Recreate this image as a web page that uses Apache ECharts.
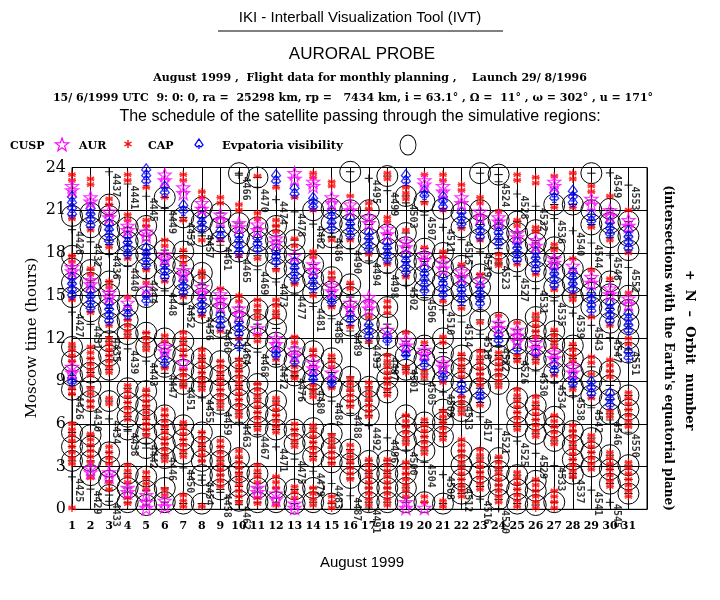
<!DOCTYPE html>
<html><head><meta charset="utf-8">
<script src="https://cdn.jsdelivr.net/npm/echarts@6/dist/echarts.min.js"></script>
<style>html,body{margin:0;padding:0;background:#fff}#c{width:720px;height:600px}</style>
</head><body><div id="c"></div>
<script>
// ---- categories / ticks ----
const dayTicks = [1,2,3,4,5,6,7,8,9,10,11,12,13,14,15,16,17,18,19,20,21,22,23,24,25,26,27,28,29,30,31];
const hourTicks = [0,3,6,9,12,15,18,21,24];

// ---- AUR (red asterisks): hours per day ----
const aurHours = [
 [0.1,3.2,3.6,4.0,4.4,4.8,5.2,5.6,6.0,8.1,8.5,10.4,10.8,11.2,11.6,14.7,17.4,17.8,20.4,23.1,23.5],
 [2.2,3.3,3.7,4.1,4.5,4.9,5.3,7.2,7.6,8.1,8.5,9.4,9.8,10.2,10.6,11.0,11.4,13.8,16.5,16.9,19.6,22.8,23.2],
 [1.4,1.9,3.2,3.6,4.0,4.4,7.4,7.8,9.6,10.0,10.4,10.8,11.2,11.6,12.0,12.9,15.6,16.0,18.4,21.4,21.8],
 [0.4,0.8,1.9,2.3,2.7,3.1,6.3,6.7,7.1,7.5,7.9,8.3,8.7,12.1,12.5,12.9,13.3,14.9,17.6,20.3,20.7,23.1,23.5],
 [1.4,1.8,2.2,2.6,5.2,5.6,6.0,6.4,6.8,7.2,7.6,8.0,8.4,11.2,11.6,12.0,12.4,15.9,16.8,19.9,20.3,22.6],
 [1.0,1.4,3.4,3.8,4.2,4.6,5.0,5.4,5.8,6.2,6.6,7.0,9.9,11.8,12.2,16.0,18.5,18.9,21.9],
 [0.2,0.6,1.0,3.7,4.1,4.5,4.9,5.3,5.7,6.1,8.6,9.0,9.4,9.8,10.8,11.2,11.6,12.0,12.4,14.9,17.3,17.7,18.2,20.3,23.1,23.5],
 [0.2,3.4,3.8,4.2,4.6,5.0,5.4,8.4,8.8,9.2,9.6,10.0,10.4,10.8,11.2,13.6,16.3,16.7,18.9,21.9,22.3],
 [1.6,2.0,2.4,2.8,3.2,3.6,4.0,4.4,4.8,7.2,7.6,8.0,8.4,8.8,9.2,9.6,10.0,10.4,12.5,15.5,18.9,21.5,21.9],
 [0.5,0.9,1.3,1.7,2.1,2.5,2.9,3.3,3.7,4.1,6.5,6.9,7.3,7.7,8.1,8.5,8.9,9.3,9.7,10.1,10.5,12.0,14.6,15.0,17.8,21.0,21.4],
 [0.4,0.8,1.9,2.3,2.7,3.1,5.6,6.0,6.4,6.8,7.2,7.6,8.0,8.4,8.8,11.8,12.2,13.5,13.9,14.3,14.7,17.6,20.4,20.8,23.4],
 [0.3,1.5,1.9,2.3,5.4,5.8,6.2,6.6,7.0,7.4,7.8,10.5,13.5,13.9,14.3,14.7,16.8,19.5,19.9,20.3,22.6],
 [0.8,1.2,1.6,4.4,4.8,5.2,5.6,6.0,9.2,9.6,10.0,11.7,12.1,15.8,18.5,19.0,21.9],
 [0.3,0.7,1.1,1.5,3.5,3.9,4.3,4.7,5.1,5.5,5.9,7.9,8.3,8.7,10.8,11.2,15.0,17.7,18.1,21.0,23.3,23.6],
 [0.1,0.5,0.9,3.2,3.6,4.0,4.4,4.8,5.2,8.5,10.0,10.4,10.8,14.2,16.2,16.6,18.9,22.7,23.0],
 [2.1,2.5,2.9,3.3,3.7,4.1,4.5,7.2,7.6,8.0,8.4,8.8,9.2,12.8,15.5,15.9,18.9,22.0],
 [0.3,0.7,1.1,1.5,1.9,2.3,2.7,3.1,3.5,6.5,6.9,7.3,7.7,8.1,8.5,8.9,11.8,13.5,17.9,21.1,21.5],
 [0.3,0.7,1.1,1.5,1.9,2.3,2.7,3.1,3.5,8.0,8.4,8.8,9.2,9.6,10.0,10.4,10.8,13.8,14.2,14.6,17.2,20.2,20.5,23.2,23.6],
 [0.9,1.3,1.7,2.1,2.5,2.9,3.3,4.6,5.0,5.4,5.8,6.2,6.6,9.6,10.0,12.4,16.3,19.6,21.8,22.2,22.6],
 [0.5,0.9,3.9,4.3,4.7,5.1,5.5,5.9,6.3,9.3,9.7,11.7,18.4,21.5,23.5],
 [0.2,0.6,4.9,5.3,5.7,6.1,6.5,6.9,8.9,11.7,12.1,14.6,17.7,18.1,21.0,23.1,23.5],
 [0.9,1.3,1.7,2.1,2.5,2.9,3.3,3.7,4.1,4.5,4.9,6.7,7.1,7.5,7.9,9.3,9.7,10.1,10.5,10.9,14.1,17.2,19.7,22.4,22.8],
 [1.4,1.8,2.2,2.6,3.0,3.4,3.8,4.2,7.3,8.7,9.1,9.5,9.9,10.3,10.7,11.1,13.1,16.5,18.9,21.5,21.9],
 [0.5,0.9,1.3,1.7,2.1,2.5,2.9,3.3,3.7,8.6,9.0,9.4,9.8,10.2,10.6,11.0,13.6,17.1,17.5,17.9,20.9],
 [0.2,0.6,1.0,1.4,1.8,2.2,2.6,5.6,6.0,6.4,6.8,7.2,7.6,8.0,8.4,10.4,10.8,13.1,17.2,19.9,20.3,23.1,23.5],
 [0.1,0.5,0.9,1.3,1.7,2.1,5.1,5.5,5.9,6.3,6.7,7.1,7.5,7.9,10.3,10.7,12.1,12.5,12.9,13.3,13.7,16.5,19.5,19.8,22.9,23.3],
 [0.1,0.5,0.9,1.3,4.6,5.0,5.4,5.8,6.2,6.6,9.4,11.4,11.8,12.2,12.6,15.4,18.2,18.6,21.2,23.4],
 [2.3,2.7,3.1,3.5,3.9,4.3,4.7,5.1,5.5,5.9,8.4,10.4,10.8,11.2,11.6,14.7,15.1,17.6,21.2,23.2,23.6],
 [2.8,3.2,3.6,4.0,4.4,4.8,5.2,7.8,9.5,10.3,10.7,13.5,16.8,19.8,22.3,22.7],
 [1.6,2.0,2.4,2.8,3.2,3.6,4.0,6.5,6.9,9.3,9.7,10.1,10.5,12.9,16.2,18.9,22.0],
 [0.9,1.3,1.7,2.1,2.5,2.9,3.3,5.8,6.2,6.6,7.0,7.4,7.8,8.2,11.6,12.0,15.2,18.0,21.0]
];

// ---- CUSP (magenta stars) ----
const cuspHours = [
 [9.6,10.0,16.7,17.0,22.4,22.7],
 [2.6,2.9,15.8,16.1,21.6,21.9],
 [2.3,2.6,14.9,15.2,20.5,20.9],
 [1.2,1.5,14.5,19.6,19.9],
 [0.1,0.5,1.0,15.5,19.2,19.5],
 [0.2,0.6,11.1,11.4,17.6,17.9,23.1,23.5],
 [10.3,16.5,16.8,22.2,22.6],
 [15.2,15.6,21.1,21.5],
 [14.3,14.7,15.1,20.3,20.7],
 [13.7,14.1,19.8,20.1],
 [1.2,1.5,12.7,19.6,20.0],
 [0.7,1.1,11.6,12.0,18.7,19.0],
 [0.1,0.4,10.8,11.2,17.8,23.2,23.6],
 [9.9,10.3,16.8,17.2,22.7,23.0],
 [9.6,15.3,15.7,21.5,21.9],
 [14.1,14.5,21.0,21.4],
 [14.1,14.5,14.9,20.1,20.5],
 [12.6,19.3,19.7],
 [0.1,0.5,11.5,11.9,18.4,18.8],
 [0.1,10.9,11.2,17.5,17.9,22.8,23.1],
 [10.0,10.3,16.9,17.3,22.3,22.7],
 [16.3,16.7,21.5,21.9],
 [16.1,20.5,20.9],
 [12.7,13.1,20.2,20.5],
 [11.8,12.2,12.6,19.1,19.4],
 [11.3,11.7,18.5,18.9],
 [10.6,11.0,17.3,17.6,22.7,23.0],
 [9.6,10.0,17.1],
 [15.9,16.3,21.4,21.8],
 [15.1,15.5,20.6,21.0],
 [14.4,14.8,19.9,20.3]
];

// ---- CAP (blue symbols) ----
const capHours = [
 [9.0,9.3,15.1,15.5,15.9,16.3,20.8,21.2,21.6,22.0],
 [14.2,14.6,15.0,15.4,20.0,20.4,20.8,21.2],
 [13.3,13.7,14.1,14.5,18.9,19.3,19.7,20.1],
 [13.7,14.1,18.0,18.4,18.8,19.2],
 [14.7,15.1,17.2,17.6,18.0,18.4,23.1,23.5,23.9],
 [10.3,10.7,16.4,16.8,17.2,22.3,22.7],
 [15.3,15.7,16.1,21.0,21.4],
 [14.0,14.4,14.8,19.8,20.2,20.6],
 [12.9,13.3,13.7,19.2,19.6],
 [11.5,12.4,12.8,13.2,18.1,18.5,18.9,19.3],
 [18.3,18.7,19.1],
 [10.9,11.2,17.4,17.8,18.2,23.1,23.5],
 [10.4,16.2,16.6,17.0,17.4,22.2,22.6],
 [9.2,9.5,15.6,16.0,16.4,21.3,21.6,21.9],
 [8.9,9.2,14.6,14.9,19.8,20.2,20.6,21.0],
 [13.3,13.7,19.3,19.7,20.1,20.5],
 [12.2,12.6,13.0,18.3,18.7,19.1,19.5],
 [11.9,12.2,17.6,18.0,18.4,18.8],
 [10.9,11.2,16.7,17.1,17.5,17.9,23.1,23.5],
 [10.2,10.6,15.4,15.8,16.2,16.6,17.0,22.1,22.4],
 [9.3,9.7,15.1,15.5,15.9,16.3,21.3,21.7,22.0],
 [8.4,8.8,14.7,15.1,15.5,15.9,20.1,20.5,20.9],
 [7.9,8.2,14.5,14.9,15.3,15.7,19.2,19.6,20.0],
 [11.9,12.3,18.7,19.1,19.5,19.9],
 [11.3,17.6,18.0,18.4,18.8],
 [11.0,16.9,17.3,17.7,18.1],
 [9.8,10.2,15.8,16.2,16.6,17.0,21.9,22.3],
 [8.9,9.3,15.5,15.9,16.3,16.7,21.6,22.0,22.4],
 [8.2,8.6,9.0,14.0,14.4,14.8,15.2,20.3,20.7],
 [7.4,7.8,8.2,13.3,13.7,14.1,14.5,19.4,19.8,20.2],
 [10.7,11.1,12.6,13.0,13.4,13.8,18.4,18.8,19.2,19.6]
];

// ---- Evpatoria visibility (circles) ----
const evpHours = [
 [3.4,4.4,5.4,8.4,9.4,10.4,11.4,14.9,15.9,16.9,17.8,20.6],
 [2.4,3.4,4.4,5.2,7.6,8.6,9.6,10.6,13.9,14.9,15.9,16.8,19.8,20.8],
 [1.0,2.0,3.0,4.0,7.6,9.8,10.8,11.8,13.1,14.1,15.1,16.0,18.6,19.6,20.6,21.4],
 [0.5,1.5,2.5,5.6,6.5,7.5,8.5,12.3,13.3,14.3,17.8,18.8,19.8],
 [0.3,1.3,2.3,4.3,5.3,6.3,7.3,8.3,11.4,12.4,14.9,16.9,17.9,18.9,19.9],
 [0.5,1.5,3.6,4.6,5.6,6.6,10.0,11.0,12.0,16.2,17.2,18.2,21.9],
 [0.4,3.9,4.9,5.9,8.8,9.8,10.8,11.8,15.1,16.1,17.1,18.1,20.5],
 [0.4,2.4,3.4,4.4,5.4,8.6,9.6,10.6,13.8,14.8,15.8,16.6,19.2,20.2,21.2],
 [1.4,2.4,3.4,4.4,7.4,8.4,9.4,10.4,12.8,13.8,14.8,18.8,19.8,20.8],
 [0.6,1.6,2.6,3.6,6.7,7.7,8.7,9.7,10.6,12.2,13.2,14.2,18.1,19.1,20.1,23.6],
 [0.5,1.5,2.5,5.8,6.8,7.8,8.8,12.0,13.0,14.0,17.8,18.8,19.8,23.3],
 [0.5,1.5,5.6,6.6,7.6,10.7,11.7,12.7,13.7,16.9,17.9,18.9,19.9],
 [0.4,1.4,4.6,5.6,9.4,10.4,11.4,15.9,16.9,17.9,18.9],
 [0.5,1.5,3.7,4.7,5.7,8.1,9.1,10.1,11.1,15.2,16.2,17.2,21.0],
 [0.4,3.3,4.3,5.3,8.6,9.6,10.6,14.3,15.3,16.3,19.1,20.1,21.1],
 [2.2,3.2,4.2,7.3,8.3,9.3,12.9,13.9,14.9,15.8,19.0,20.0,21.0,23.7],
 [0.5,1.5,2.5,3.4,6.6,7.6,8.6,12.0,13.0,14.0,18.0,19.0,20.0,21.0],
 [0.5,1.5,2.5,3.4,8.2,9.2,10.2,12.0,13.0,14.2,17.3,18.3,19.3,23.4],
 [0.5,1.5,2.5,4.8,5.8,6.6,9.8,10.8,11.8,16.4,17.4,18.4,19.4,22.0],
 [0.5,4.1,5.1,6.1,9.5,10.5,11.5,15.4,16.4,17.4,18.3,21.6],
 [0.4,5.1,6.1,7.0,9.0,10.0,11.0,12.0,15.0,16.0,17.0,18.0,21.1],
 [1.1,2.1,3.1,4.1,6.9,7.9,8.9,9.9,10.8,14.3,15.3,16.3,17.1,19.8,20.8],
 [1.6,2.6,3.6,7.5,8.5,9.5,10.5,13.3,14.6,15.6,16.5,19.0,20.0,21.0,23.6],
 [0.7,1.7,2.7,3.6,8.8,9.8,10.8,12.1,13.1,17.3,18.3,19.3,20.3,23.5],
 [0.4,1.4,2.4,5.8,6.8,7.8,10.6,11.6,12.6,17.4,18.4,19.4,20.2],
 [0.3,1.3,2.0,5.3,6.3,7.3,10.5,11.5,12.5,13.5,16.7,17.7,18.7,19.6],
 [0.5,4.8,5.8,6.5,9.6,10.6,11.6,12.5,15.6,16.6,17.6,18.4,21.4],
 [2.5,3.5,4.5,5.5,8.6,9.6,10.6,11.5,14.9,15.9,16.9,21.4],
 [3.0,4.0,5.0,8.0,9.0,10.0,14.2,15.2,16.2,20.0,21.0,23.6],
 [1.8,2.8,3.8,6.7,7.7,8.7,9.7,13.1,14.1,15.1,16.0,19.1,20.1,21.1],
 [1.1,2.1,3.1,6.0,7.0,8.0,11.0,12.0,13.0,14.0,15.0,18.2,19.2,20.2]
];

// ---- Orbit equatorial crossings: [orbit number, day, hour] ----
const orbits = [
 [4425,1,2.28],[4426,1,8.07],[4427,1,13.85],[4428,1,19.64],
 [4429,2,1.42],[4430,2,7.21],[4431,2,12.99],[4432,2,18.78],
 [4433,3,0.56],[4434,3,6.35],[4435,3,12.13],[4436,3,17.92],[4437,3,23.70],
 [4438,4,5.49],[4439,4,11.27],[4440,4,17.06],[4441,4,22.84],
 [4442,5,4.63],[4443,5,10.41],[4444,5,16.20],[4445,5,21.98],
 [4446,6,3.77],[4447,6,9.55],[4448,6,15.34],[4449,6,21.12],
 [4450,7,2.91],[4451,7,8.69],[4452,7,14.48],[4453,7,20.26],
 [4454,8,2.05],[4455,8,7.83],[4456,8,13.62],[4457,8,19.40],
 [4458,9,1.19],[4459,9,6.97],[4460,9,12.76],[4461,9,18.54],
 [4462,10,0.33],[4463,10,6.11],[4464,10,11.90],[4465,10,17.68],[4466,10,23.47],
 [4467,11,5.25],[4468,11,11.04],[4469,11,16.82],[4470,11,22.61],
 [4471,12,4.39],[4472,12,10.18],[4473,12,15.96],[4474,12,21.75],
 [4475,13,3.53],[4476,13,9.32],[4477,13,15.10],[4478,13,20.89],
 [4479,14,2.67],[4480,14,8.46],[4481,14,14.24],[4482,14,20.03],
 [4483,15,1.81],[4484,15,7.60],[4485,15,13.38],[4486,15,19.17],
 [4487,16,0.95],[4488,16,6.74],[4489,16,12.52],[4490,16,18.31],
 [4491,17,0.09],[4492,17,5.88],[4493,17,11.66],[4494,17,17.45],[4495,17,23.23],
 [4496,18,5.02],[4497,18,10.80],[4498,18,16.59],[4499,18,22.37],
 [4500,19,4.16],[4501,19,9.94],[4502,19,15.73],[4503,19,21.51],
 [4504,20,3.30],[4505,20,9.08],[4506,20,14.87],[4507,20,20.65],
 [4508,21,2.44],[4509,21,8.22],[4510,21,14.01],[4511,21,19.79],
 [4512,22,1.58],[4513,22,7.36],[4514,22,13.15],[4515,22,18.93],
 [4516,23,0.72],[4517,23,6.50],[4518,23,12.29],[4519,23,18.07],
 [4520,24,0.05],[4521,24,5.64],[4522,24,11.43],[4523,24,17.21],[4524,24,23.00],
 [4525,25,4.78],[4526,25,10.57],[4527,25,16.35],[4528,25,22.14],
 [4529,26,3.92],[4530,26,9.71],[4531,26,15.49],[4532,26,21.28],
 [4533,27,3.06],[4534,27,8.85],[4535,27,14.63],[4536,27,20.42],
 [4537,28,2.20],[4538,28,7.99],[4539,28,13.77],[4540,28,19.56],
 [4541,29,1.34],[4542,29,7.13],[4543,29,12.91],[4544,29,18.70],
 [4545,30,0.48],[4546,30,6.27],[4547,30,12.05],[4548,30,17.84],[4549,30,23.62],
 [4550,31,5.41],[4551,31,11.19],[4552,31,16.98],[4553,31,22.76]
];

// ---- symbols ----
const STAR = 'M0,-7L1.65,-2.27L6.66,-2.16L2.66,0.87L4.11,5.66L0,2.8L-4.11,5.66L-2.66,0.87L-6.66,-2.16L-1.65,-2.27Z';
const ASTER = 'M0,-4L0,4M-3.46,-2L3.46,2M-3.46,2L3.46,-2M-4,0L4,0';
const SPADE = 'M0,-5L4,1L2,3L0,1.5L-2,3L-4,1ZM0,1.5L0,5M-2,5L2,5';
const CIRC = 'M-10,0A10,10 0 1,1 10,0A10,10 0 1,1 -10,0ZM-4,0L4,0';
const PLUS = 'M-4,0L4,0M0,-4L0,4';

function pts(arr){const out=[];arr.forEach((hs,i)=>hs.forEach(h=>out.push([dayTicks[i],h])));return out;}

const chart = echarts.init(document.getElementById('c'), null, {renderer:'canvas'});
const serif = "'DejaVu Serif', 'Liberation Serif', serif";
const sans = "'Liberation Sans', Arial, sans-serif";

const gText = (x,y,text,font,extra)=>Object.assign({type:'text',x:x,y:y,style:{text:text,font:font,fill:'#000',textAlign:'center',textVerticalAlign:'middle'}},extra||{});
const lText = (x,y,text)=>({type:'text',x:x,y:y,style:{text:text,font:'bold 11px '+serif,fill:'#000',textAlign:'left',textVerticalAlign:'middle'}});
const starPts = [[0,-7],[1.65,-2.27],[6.66,-2.16],[2.66,0.87],[4.11,5.66],[0,2.8],[-4.11,5.66],[-2.66,0.87],[-6.66,-2.16],[-1.65,-2.27]];

chart.setOption({
 animation:false,
 backgroundColor:'#fff',
 grid:{left:72,right:73,top:167.5,bottom:90.7,show:true,borderColor:'#000',borderWidth:1,backgroundColor:'transparent'},
 xAxis:{type:'value',min:1,max:32,interval:1,
  axisLine:{lineStyle:{color:'#000'}},axisTick:{show:false},
  splitLine:{show:true,lineStyle:{color:'#000',width:1}},
  axisLabel:{color:'#000',fontFamily:serif,fontWeight:'bold',fontSize:11,margin:11,
    formatter:v=>dayTicks.indexOf(v)>=0?String(v):''}},
 yAxis:{type:'value',min:0,max:24,interval:3,
  axisLine:{lineStyle:{color:'#000'}},axisTick:{show:false},
  splitLine:{show:true,lineStyle:{color:'#000',width:1}},
  axisLabel:{color:'#000',fontFamily:serif,fontSize:16,margin:6,
    formatter:v=>hourTicks.indexOf(v)>=0?String(v):''}},
 series:[
  {name:'Evpatoria visibility',type:'scatter',data:pts(evpHours),symbol:'path://'+CIRC,symbolSize:21,
   itemStyle:{color:'transparent',borderColor:'#000',borderWidth:1,opacity:1},z:2},
  {name:'orbit',type:'scatter',data:orbits.map(o=>[o[1],o[2],o[0]]),symbol:'path://'+PLUS,symbolSize:8,
   itemStyle:{color:'transparent',borderColor:'#000',borderWidth:1.2},z:3,
   label:{show:true,formatter:p=>String(p.data[2]),rotate:-90,position:[11,6],align:'left',verticalAlign:'middle',
     color:'#000',fontFamily:"'DejaVu Sans Mono', monospace",fontWeight:'bold',fontSize:10}},
  {name:'AUR',type:'scatter',data:pts(aurHours),symbol:'path://'+ASTER,symbolSize:8,
   itemStyle:{color:'transparent',borderColor:'#ff0000',borderWidth:1.4},z:4},
  {name:'CAP',type:'scatter',data:pts(capHours),symbol:'path://'+SPADE,symbolSize:[9,10],
   itemStyle:{color:'transparent',borderColor:'#0000ff',borderWidth:1.3},z:5},
  {name:'CUSP',type:'scatter',data:pts(cuspHours),symbol:'path://'+STAR,symbolSize:13,
   itemStyle:{color:'transparent',borderColor:'#ff00ff',borderWidth:1.2},z:6}
 ],
 graphic:[
  gText(360,18,'IKI - Interball Visualization Tool (IVT)','15px '+sans),
  {type:'line',shape:{x1:218,y1:31,x2:503,y2:31},style:{stroke:'#000',lineWidth:1}},
  gText(362,54,'AURORAL PROBE','17px '+sans),
  gText(370,78,'August 1999 ,  Flight data for monthly planning ,    Launch 29/ 8/1996','bold 11px '+serif),
  gText(353,98,'15/ 6/1999 UTC  9: 0: 0, ra =  25298 km, rp =   7434 km, i = 63.1\u00b0 , \u03a9 =  11\u00b0 , \u03c9 = 302\u00b0 , u = 171\u00b0','bold 11px '+serif),
  gText(360,117,'The schedule of the satellite passing through the simulative regions:','16px '+sans),
  lText(10,146,'CUSP'),
  {type:'polygon',x:62,y:145,shape:{points:starPts},style:{fill:'none',stroke:'#ff00ff',lineWidth:1.2}},
  lText(79,146,'AUR'),
  {type:'line',x:128,y:144,shape:{x1:0,y1:-4,x2:0,y2:4},style:{stroke:'#ff0000',lineWidth:1.4}},
  {type:'line',x:128,y:144,shape:{x1:-3.5,y1:-2,x2:3.5,y2:2},style:{stroke:'#ff0000',lineWidth:1.4}},
  {type:'line',x:128,y:144,shape:{x1:-3.5,y1:2,x2:3.5,y2:-2},style:{stroke:'#ff0000',lineWidth:1.4}},
  lText(148,146,'CAP'),
  {type:'polygon',x:199,y:144,shape:{points:[[0,-5],[4,1],[2,3],[0,1.5],[-2,3],[-4,1]]},style:{fill:'none',stroke:'#0000ff',lineWidth:1.3}},
  {type:'line',x:199,y:144,shape:{x1:0,y1:1.5,x2:0,y2:5},style:{stroke:'#0000ff',lineWidth:1.3}},
  {type:'text',x:222,y:146,style:{text:'Evpatoria visibility',font:'bold 11.5px '+serif,fill:'#000',textAlign:'left',textVerticalAlign:'middle'}},
  {type:'circle',x:408,y:145,scaleY:1.25,shape:{cx:0,cy:0,r:8},style:{fill:'none',stroke:'#000',lineWidth:0.9}},
  gText(32,338,'Moscow time (hours)','15px '+serif,{rotation:Math.PI/2}),
  gText(362,563,'August 1999','15px '+sans),
  gText(689,350,'+  N  \u2013  Orbit  number','bold 13px '+serif,{rotation:-Math.PI/2}),
  gText(668,348,"(intersections with the Earth's equatorial plane)",'bold 12px '+serif,{rotation:-Math.PI/2})
 ]
});
</script></body></html>
